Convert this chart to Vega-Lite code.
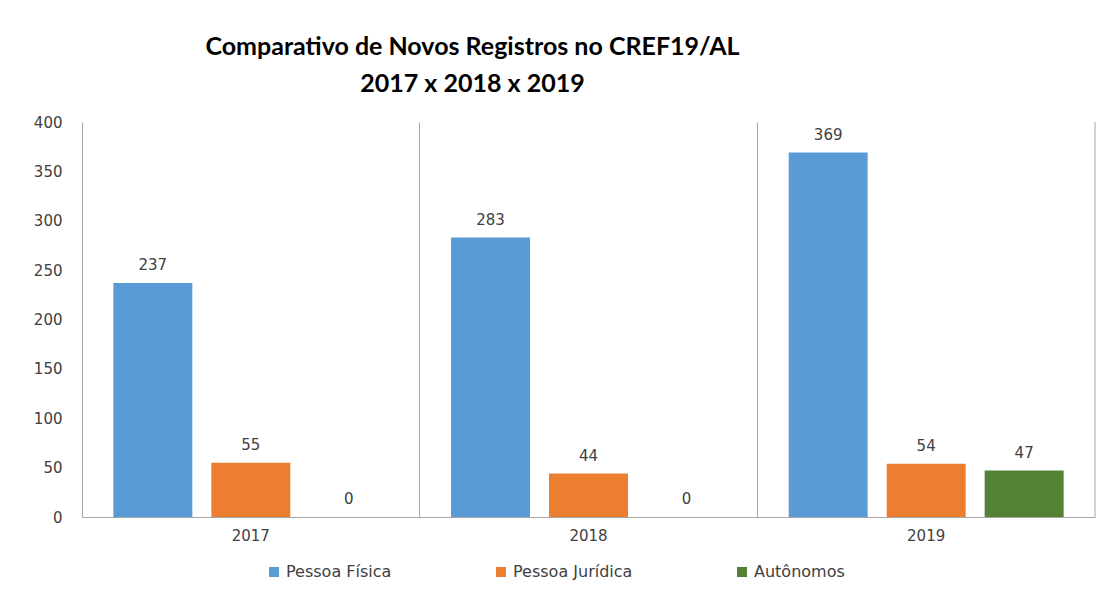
{
  "$schema": "https://vega.github.io/schema/vega-lite/v6.json",
  "autosize": {"type": "none"},
  "width": 1013,
  "height": 395,
  "padding": {"left": 82, "top": 122, "right": 13, "bottom": 76},
  "background": "white",
  "title": {
    "text": ["Comparativo de Novos Registros no CREF19/AL", "2017 x 2018 x 2019"],
    "anchor": "middle",
    "frame": "group",
    "dx": -116,
    "offset": 18,
    "font": "Lato",
    "fontSize": 25,
    "fontWeight": "bold",
    "lineHeight": 37,
    "color": "#000000"
  },
  "data": {
    "values": [
      {"Ano": "2017", "Tipo": "Pessoa Física", "Registros": 237},
      {"Ano": "2017", "Tipo": "Pessoa Jurídica", "Registros": 55},
      {"Ano": "2017", "Tipo": "Autônomos", "Registros": 0},
      {"Ano": "2018", "Tipo": "Pessoa Física", "Registros": 283},
      {"Ano": "2018", "Tipo": "Pessoa Jurídica", "Registros": 44},
      {"Ano": "2018", "Tipo": "Autônomos", "Registros": 0},
      {"Ano": "2019", "Tipo": "Pessoa Física", "Registros": 369},
      {"Ano": "2019", "Tipo": "Pessoa Jurídica", "Registros": 54},
      {"Ano": "2019", "Tipo": "Autônomos", "Registros": 47}
    ]
  },
  "config": {
    "view": {"stroke": null},
    "font": "DejaVu Sans",
    "axis": {"labelFont": "DejaVu Sans", "labelFontSize": 15, "labelColor": "#404040", "title": null}
  },
  "layer": [
    {
      "mark": {"type": "bar"},
      "encoding": {
        "x": {
          "field": "Ano", "type": "nominal",
          "scale": {"paddingInner": 0, "paddingOuter": 0},
          "axis": {
            "labelAngle": 0, "labelPadding": 11, "ticks": false,
            "domain": true, "domainColor": "#a6a6a6",
            "grid": true, "gridColor": "#a6a6a6", "bandPosition": 0
          }
        },
        "xOffset": {
          "field": "Tipo", "type": "nominal",
          "sort": ["Pessoa Física", "Pessoa Jurídica", "Autônomos"],
          "scale": {"paddingInner": 0.194, "paddingOuter": 0.32}
        },
        "y": {
          "field": "Registros", "type": "quantitative",
          "scale": {"domain": [0, 400]},
          "axis": {"values": [0, 50, 100, 150, 200, 250, 300, 350, 400], "grid": false, "domain": false, "ticks": false, "labelPadding": 20}
        },
        "color": {
          "field": "Tipo", "type": "nominal",
          "sort": ["Pessoa Física", "Pessoa Jurídica", "Autônomos"],
          "scale": {"domain": ["Pessoa Física", "Pessoa Jurídica", "Autônomos"], "range": ["#5b9bd5", "#ed7d31", "#548235"]},
          "legend": {
            "title": null, "orient": "none", "direction": "horizontal",
            "legendX": 184, "legendY": 442,
            "symbolType": "square", "symbolSize": 100, "symbolStrokeWidth": 0,
            "labelFont": "DejaVu Sans", "labelFontSize": 16, "labelColor": "#404040",
            "labelOffset": 4, "columnPadding": 101
          }
        }
      }
    },
    {
      "mark": {"type": "text", "baseline": "bottom", "dy": -10, "font": "DejaVu Sans", "fontSize": 15, "color": "#404040"},
      "encoding": {
        "x": {"field": "Ano", "type": "nominal"},
        "xOffset": {"field": "Tipo", "type": "nominal", "sort": ["Pessoa Física", "Pessoa Jurídica", "Autônomos"]},
        "y": {"field": "Registros", "type": "quantitative"},
        "text": {"field": "Registros", "type": "quantitative"}
      }
    },
    {
      "data": {"values": [{"Ano": "2019"}]},
      "mark": {"type": "rule", "color": "#a6a6a6"},
      "encoding": {
        "x": {"field": "Ano", "type": "nominal", "bandPosition": 1}
      }
    }
  ]
}
